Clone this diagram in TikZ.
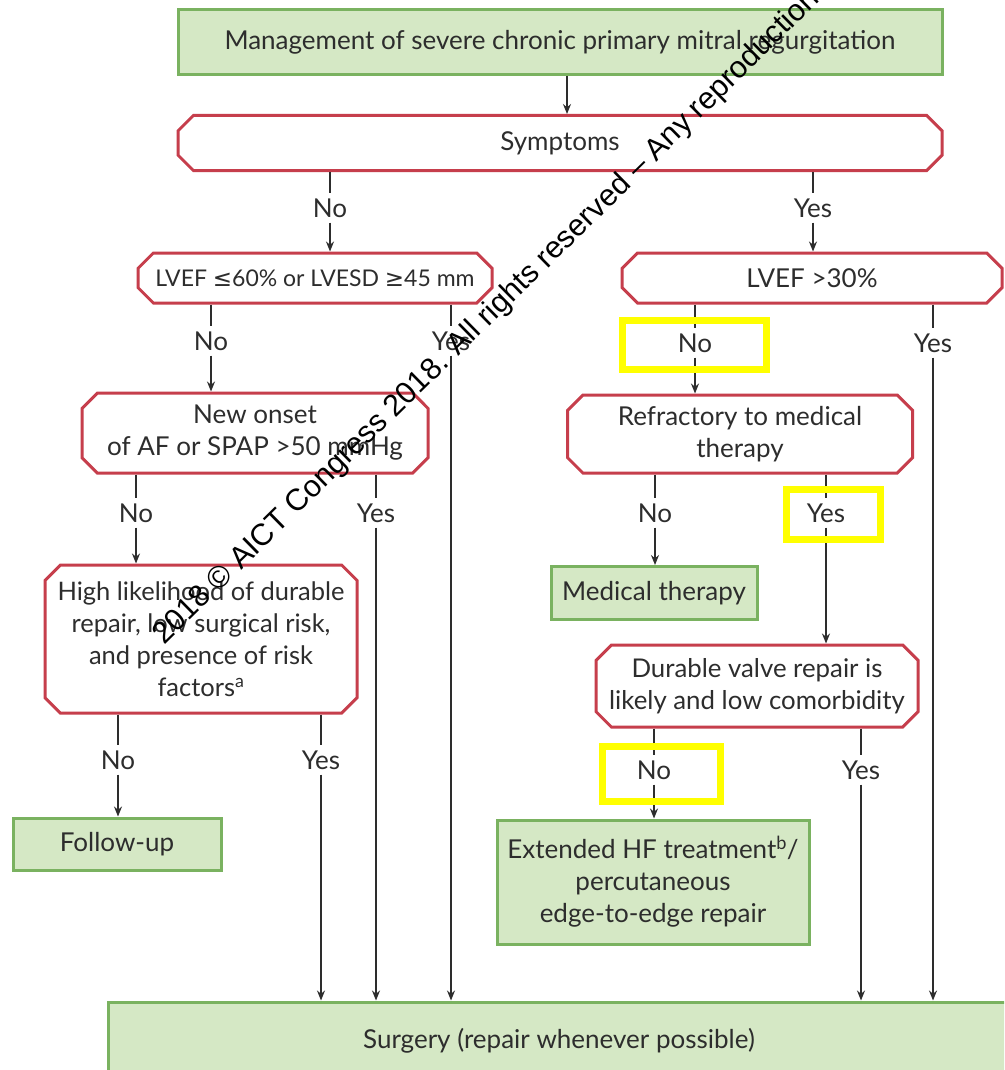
\documentclass[tikz,border=0pt]{standalone}
\usepackage{fontspec}
\setmainfont{Lato}
\newfontfamily\markfont{Liberation Sans}
\newfontfamily\relfont{DejaVu Sans}
\usetikzlibrary{arrows.meta,positioning,shapes.misc}
\definecolor{boxgreen}{RGB}{213,232,197}
\definecolor{edgegreen}{RGB}{122,178,96}
\definecolor{askred}{RGB}{198,62,76}
\definecolor{inkgray}{RGB}{45,45,45}
\definecolor{hiyellow}{RGB}{255,255,0}
\newcommand{\lesign}{{\relfont ≤}}
\newcommand{\gesign}{{\relfont ≥}}

\begin{document}
\begin{tikzpicture}[x=1pt, y=-1pt, >={Stealth[length=10pt,width=8pt]},
  every node/.style={font=\fontsize{26}{32}\selectfont, text=inkgray, align=center},
  endbox/.style={draw=edgegreen, fill=boxgreen, line width=3pt, inner sep=4pt},
  askbox/.style={chamfered rectangle, chamfered rectangle xsep=12pt, draw=askred, fill=white, line width=3pt, inner xsep=0pt, inner ysep=4pt},
  ans/.style={inner sep=5pt},
  flow/.style={draw=inkgray, line width=1.4pt},
  hilite/.style={draw=hiyellow, line width=7pt}]
  \clip (0,0) rectangle (1004,1070);
  \fill[white] (0,0) rectangle (1004,1070);

  \node[endbox, minimum width=764pt, minimum height=65pt] (mgmt) at (560,42) {Management of severe chronic primary mitral regurgitation};
  \node[askbox, minimum width=764pt, minimum height=55pt] (symp) at (560,143) {Symptoms};
  \node[askbox, minimum width=354pt, minimum height=50pt, font=\fontsize{23}{32}\selectfont] (lvefA) at (315,278) {LVEF \lesign60\% or LVESD \gesign45 mm};
  \node[askbox, minimum width=380pt, minimum height=50pt] (lvefB) at (812,278) {LVEF >30\%};
  \node[askbox, minimum width=346pt, minimum height=80pt] (onset) at (255,433) {New onset\\of AF or SPAP >50 mmHg};
  \node[askbox, minimum width=345pt, minimum height=78pt] (refr) at (740,434) {Refractory to medical\\therapy};
  \node[askbox, minimum width=312pt, minimum height=148pt, font=\fontsize{25.5}{32}\selectfont] (likely) at (201,639) {High likelihood of durable\\repair, low surgical risk,\\and presence of risk\\factors\textsuperscript{a}};
  \node[endbox, minimum width=206pt, minimum height=53pt] (medth) at (654,593) {Medical therapy};
  \node[askbox, minimum width=322pt, minimum height=82pt, font=\fontsize{25.8}{32}\selectfont] (durable) at (757,686) {Durable valve repair is\\likely and low comorbidity};
  \node[endbox, minimum width=208pt, minimum height=52pt] (follow) at (117,844) {Follow-up};
  \node[endbox, minimum width=312pt, minimum height=124pt] (hfcare) at (653,882) {Extended HF treatment\textsuperscript{b}/\\percutaneous\\edge-to-edge repair};
  \node[endbox, minimum width=902pt, minimum height=78pt] (surgery) at (559,1041) {Surgery (repair whenever possible)};

  \node[ans] (noA) at (330,208) {No};
  \node[ans] (yesA) at (813,208) {Yes};
  \node[ans] (noB) at (211,341) {No};
  \node[ans] (yesB) at (451,341) {Yes};
  \node[ans] (noC) at (695,343) {No};
  \node[ans] (yesC) at (933,343) {Yes};
  \node[ans] (noD) at (136,513) {No};
  \node[ans] (yesD) at (376,513) {Yes};
  \node[ans] (noE) at (655,513) {No};
  \node[ans] (yesE) at (826,513) {Yes};
  \node[ans] (noF) at (118,760) {No};
  \node[ans] (yesF) at (321,760) {Yes};
  \node[ans] (noG) at (654,770) {No};
  \node[ans] (yesG) at (861,770) {Yes};

  \draw[flow,->] ([xshift=7pt]mgmt.south) -- ([xshift=7pt]symp.north);
  \draw[flow] (symp.south -| noA) -- (noA);
  \draw[flow,->] (noA) -- (noA |- lvefA.north);
  \draw[flow] (symp.south -| yesA) -- (yesA);
  \draw[flow,->] (yesA) -- (yesA |- lvefB.north);
  \draw[flow] (lvefA.south -| noB) -- (noB);
  \draw[flow,->] (noB) -- (noB |- onset.north);
  \draw[flow] (lvefA.south -| yesB) -- (yesB);
  \draw[flow,->] (yesB) -- (yesB |- surgery.north);
  \draw[flow] (lvefB.south -| noC) -- (noC);
  \draw[flow,->] (noC) -- (noC |- refr.north);
  \draw[flow] (lvefB.south -| yesC) -- (yesC);
  \draw[flow,->] (yesC) -- (yesC |- surgery.north);
  \draw[flow] (onset.south -| noD) -- (noD);
  \draw[flow,->] (noD) -- (noD |- likely.north);
  \draw[flow] (onset.south -| yesD) -- (yesD);
  \draw[flow,->] (yesD) -- (yesD |- surgery.north);
  \draw[flow] (refr.south -| noE) -- (noE);
  \draw[flow,->] (noE) -- (noE |- medth.north);
  \draw[flow] (refr.south -| yesE) -- (yesE);
  \draw[flow,->] (yesE) -- (yesE |- durable.north);
  \draw[flow] (likely.south -| noF) -- (noF);
  \draw[flow,->] (noF) -- (noF |- follow.north);
  \draw[flow] (likely.south -| yesF) -- (yesF);
  \draw[flow,->] (yesF) -- (yesF |- surgery.north);
  \draw[flow] (durable.south -| noG) -- (noG);
  \draw[flow,->] (noG) -- (noG |- hfcare.north);
  \draw[flow] (durable.south -| yesG) -- (yesG);
  \draw[flow,->] (yesG) -- (yesG |- surgery.north);

  \draw[hilite] (622.5,320.5) rectangle (766.5,369.5);
  \draw[hilite] (786.5,489.5) rectangle (880.5,539.5);
  \draw[hilite] (602,746.5) rectangle (720,801);

  \node[font=\markfont\fontsize{30.5}{30.5}\selectfont, text=black, rotate=44.5, anchor=base west] (mark) at (162,648) {2018 © AICT Congress 2018. All rights reserved – Any reproduction or any part is prohibited};
\end{tikzpicture}
\end{document}
